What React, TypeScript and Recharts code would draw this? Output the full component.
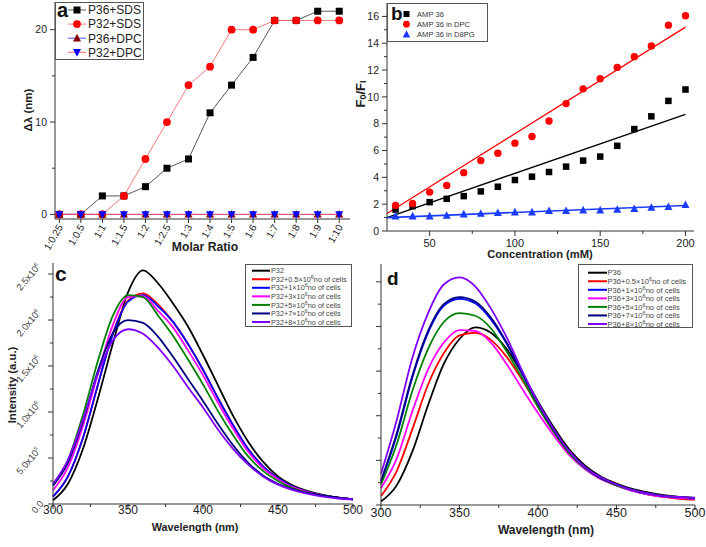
import React from 'react'
import { ComposedChart, LineChart, Line, Scatter, XAxis, YAxis } from 'recharts'

const FONT = '"Liberation Sans", Arial, Helvetica, sans-serif'
const AXIS = '#333'

// panel a: shift vs molar ratio
const RATIOS = ['1:0.25', '1:0.5', '1:1', '1:1.5', '1:2', '1:2.5', '1:3', '1:4', '1:5', '1:6', '1:7', '1:8', '1:9', '1:10']
const SHIFT_P36_SDS = [0, 0, 2, 2, 3, 5, 6, 11, 14, 17, 21, 21, 22, 22]
const SHIFT_P32_SDS = [0, 0, 0, 2, 6, 10, 14, 16, 20, 20, 21, 21, 21, 21]
const SHIFT_P36_DPC = [0, 0, 0, 0, 0, 0, 0, 0, 0, 0, 0, 0, 0, 0]
const SHIFT_P32_DPC = [0, 0, 0, 0, 0, 0, 0, 0, 0, 0, 0, 0, 0, 0]

// panel b: Stern-Volmer
const CONC = [30, 40, 50, 60, 70, 80, 90, 100, 110, 120, 130, 140, 150, 160, 170, 180, 190, 200]
const FF_AMP36 = [1.6, 1.85, 2.15, 2.4, 2.6, 2.95, 3.3, 3.8, 4.05, 4.4, 4.8, 5.25, 5.55, 6.35, 7.6, 8.55, 9.7, 10.55]
const FF_DPC = [1.9, 2.05, 2.9, 3.4, 4.35, 5.25, 5.8, 6.55, 7.05, 8.2, 9.5, 10.6, 11.35, 12.2, 13.0, 13.8, 15.35, 16.05]
const FF_D8PG = [1.1, 1.1, 1.1, 1.15, 1.25, 1.3, 1.35, 1.4, 1.4, 1.5, 1.5, 1.55, 1.55, 1.6, 1.65, 1.75, 1.8, 1.95]
const FIT_X = [25, 200]
const FIT_AMP36 = [1.0, 8.7]
const FIT_DPC = [1.3, 15.2]
const FIT_D8PG = [1.0, 1.9]

// panels c, d: emission spectra (intensity in units of 10^6)
const WAVELENGTH = [300, 310, 320, 330, 340, 350, 360, 370, 380, 390, 400, 410, 420, 430, 440, 450, 460, 470, 480, 490, 500]
const CELLS = ['0.5', '1', '3', '5', '7', '8']
const COLORS = ['#000000', '#ff0000', '#0000ff', '#ff00ff', '#008000', '#000080', '#8000ff']

const P32_CTRL = [0.04, 0.22, 0.6, 1.15, 1.75, 2.3, 2.54, 2.4, 2.18, 1.93, 1.62, 1.29, 0.96, 0.68, 0.46, 0.3, 0.2, 0.14, 0.1, 0.07, 0.05]
const P32_05 = [0.08, 0.3, 0.72, 1.3, 1.86, 2.21, 2.29, 2.17, 1.98, 1.74, 1.46, 1.15, 0.86, 0.6, 0.41, 0.28, 0.19, 0.13, 0.09, 0.07, 0.05]
const P32_1 = [0.08, 0.3, 0.72, 1.3, 1.85, 2.2, 2.27, 2.15, 1.98, 1.74, 1.46, 1.15, 0.86, 0.6, 0.41, 0.28, 0.19, 0.13, 0.09, 0.07, 0.05]
const P32_3 = [0.15, 0.4, 0.85, 1.42, 1.95, 2.25, 2.26, 2.1, 1.92, 1.67, 1.4, 1.1, 0.82, 0.57, 0.39, 0.27, 0.18, 0.13, 0.09, 0.07, 0.05]
const P32_5 = [0.2, 0.48, 0.97, 1.56, 2.05, 2.27, 2.25, 2.05, 1.83, 1.57, 1.3, 1.01, 0.75, 0.52, 0.36, 0.25, 0.17, 0.12, 0.09, 0.07, 0.05]
const P32_7 = [0.2, 0.45, 0.9, 1.45, 1.86, 2.0, 1.97, 1.82, 1.6, 1.36, 1.12, 0.87, 0.64, 0.45, 0.31, 0.22, 0.16, 0.12, 0.09, 0.07, 0.05]
const P32_8 = [0.22, 0.48, 0.92, 1.42, 1.78, 1.9, 1.85, 1.7, 1.5, 1.27, 1.05, 0.81, 0.6, 0.43, 0.3, 0.21, 0.15, 0.11, 0.08, 0.06, 0.05]

const P36_CTRL = [0.04, 0.22, 0.6, 1.12, 1.58, 1.86, 1.99, 1.93, 1.75, 1.47, 1.16, 0.87, 0.62, 0.44, 0.32, 0.24, 0.18, 0.14, 0.11, 0.09, 0.07]
const P36_05 = [0.1, 0.38, 0.85, 1.35, 1.7, 1.9, 1.93, 1.85, 1.66, 1.4, 1.1, 0.82, 0.58, 0.41, 0.3, 0.22, 0.16, 0.12, 0.09, 0.07, 0.06]
const P36_1 = [0.26, 0.78, 1.43, 1.93, 2.23, 2.31, 2.26, 2.08, 1.81, 1.47, 1.13, 0.83, 0.59, 0.41, 0.3, 0.22, 0.16, 0.12, 0.1, 0.08, 0.07]
const P36_3 = [0.19, 0.52, 1.05, 1.52, 1.82, 1.96, 1.95, 1.82, 1.58, 1.3, 1.03, 0.78, 0.56, 0.4, 0.29, 0.22, 0.16, 0.12, 0.09, 0.08, 0.07]
const P36_5 = [0.23, 0.68, 1.28, 1.75, 2.05, 2.15, 2.12, 1.98, 1.72, 1.42, 1.1, 0.82, 0.58, 0.41, 0.3, 0.22, 0.17, 0.13, 0.1, 0.09, 0.08]
const P36_7 = [0.27, 0.8, 1.45, 1.95, 2.25, 2.33, 2.28, 2.1, 1.82, 1.48, 1.14, 0.84, 0.6, 0.42, 0.3, 0.23, 0.17, 0.13, 0.1, 0.09, 0.08]
const P36_8 = [0.35, 0.95, 1.65, 2.15, 2.47, 2.55, 2.45, 2.2, 1.88, 1.5, 1.15, 0.85, 0.6, 0.42, 0.31, 0.23, 0.17, 0.13, 0.1, 0.09, 0.08]

const P32_SERIES = [P32_CTRL, P32_05, P32_1, P32_3, P32_5, P32_7, P32_8]
const P36_SERIES = [P36_CTRL, P36_05, P36_1, P36_3, P36_5, P36_7, P36_8]

const dataA = RATIOS.map((_, i) => ({
  i,
  p36sds: SHIFT_P36_SDS[i],
  p32sds: SHIFT_P32_SDS[i],
  p36dpc: SHIFT_P36_DPC[i],
  p32dpc: SHIFT_P32_DPC[i]
}))

const toPts = (xs: number[], ys: number[]) => xs.map((x, i) => ({ x, y: ys[i] }))

const spectraRows = (series: number[][]) =>
  WAVELENGTH.map((w, i) => {
    const row: any = { w }
    series.forEach((s, k) => (row['s' + k] = s[i]))
    return row
  })

// markers
const Square = ({ cx, cy, color, s = 7 }: any) =>
  cx == null ? null : <rect x={cx - s / 2} y={cy - s / 2} width={s} height={s} fill={color} />
const Circle = ({ cx, cy, color, r = 3.8 }: any) =>
  cx == null ? null : <circle cx={cx} cy={cy} r={r} fill={color} />
const TriUp = ({ cx, cy, color, s = 8 }: any) =>
  cx == null ? null : (
    <polygon points={`${cx},${cy - s * 0.55} ${cx - s / 2},${cy + s * 0.4} ${cx + s / 2},${cy + s * 0.4}`} fill={color} />
  )
const TriDown = ({ cx, cy, color, s = 8 }: any) =>
  cx == null ? null : (
    <polygon points={`${cx},${cy + s * 0.55} ${cx - s / 2},${cy - s * 0.4} ${cx + s / 2},${cy - s * 0.4}`} fill={color} />
  )

// ticks
function XTick({ x, y, payload, isMajor, size, dy, fmt }: any) {
  const v = payload.value
  const major = isMajor(v)
  return (
    <g>
      <line x1={x} x2={x} y1={y} y2={y + (major ? 5 : 3)} stroke={AXIS} />
      {major && (
        <text x={x} y={y + dy} textAnchor="middle" fontSize={size} fontFamily={FONT} fill="#222">
          {fmt ? fmt(v) : v}
        </text>
      )}
    </g>
  )
}

function YTick({ x, y, payload, isMajor, size, showLabel = true }: any) {
  const v = payload.value
  const major = isMajor(v)
  return (
    <g>
      <line x1={x} x2={x - (major ? 5 : 3)} y1={y} y2={y} stroke={AXIS} />
      {major && showLabel && (
        <text x={x - 8} y={y} dy="0.35em" textAnchor="end" fontSize={size} fontFamily={FONT} fill="#222">
          {v}
        </text>
      )}
    </g>
  )
}

function RatioTick({ x, y, payload }: any) {
  const ax = x + 4
  const ay = y + 8
  return (
    <g>
      <line x1={x} x2={x} y1={y} y2={y + 4} stroke={AXIS} />
      <text x={ax} y={ay} textAnchor="end" fontSize={10} fontFamily={FONT} fill="#222"
        transform={`rotate(-60 ${ax} ${ay})`}>
        {RATIOS[payload.value]}
      </text>
    </g>
  )
}

const halfMajor = (v: number) => Math.abs(v * 2 - Math.round(v * 2)) < 1e-9

function SciTick({ x, y, payload }: any) {
  const v = payload.value
  const major = halfMajor(v)
  const cx = v === 0 ? x - 13 : x - 22
  const cy = y + 5
  let label: React.ReactNode = '0.0'
  if (v === 0.5) label = <>5.0x10<tspan dy={-4} fontSize={5.5}>5</tspan></>
  else if (v > 0) label = <>{v.toFixed(1)}x10<tspan dy={-4} fontSize={5.5}>6</tspan></>
  return (
    <g>
      <line x1={x} x2={x - (major ? 5 : 3)} y1={y} y2={y} stroke={AXIS} />
      {major && (
        <text x={cx} y={cy} textAnchor="middle" fontSize={9.5} fontFamily={FONT} fill="#444"
          transform={`rotate(-50 ${cx} ${cy})`}>
          {label}
        </text>
      )}
    </g>
  )
}

// top and right border of each frame
const frameAxes = [
  <XAxis key="ft" xAxisId="top" orientation="top" type="number" domain={[0, 1]} tick={false} tickLine={false} height={0} stroke={AXIS} />,
  <YAxis key="fr" yAxisId="right" orientation="right" type="number" domain={[0, 1]} tick={false} tickLine={false} width={0} stroke={AXIS} />
]

function PanelA() {
  return (
    <LineChart width={360} height={260} data={dataA} margin={{ top: 2, right: 10, left: 0, bottom: 0 }}>
      <XAxis dataKey="i" type="number" domain={[-0.2, 13.5]} ticks={RATIOS.map((_, i) => i)} interval={0}
        height={41} tickSize={0} tickMargin={0} tickLine={false} stroke={AXIS} tick={<RatioTick />} />
      <YAxis type="number" domain={[-0.5, 23]} ticks={[0, 5, 10, 15, 20]} interval={0} width={55}
        tickSize={0} tickMargin={0} tickLine={false} stroke={AXIS}
        tick={<YTick isMajor={(v: number) => v % 10 === 0} size={10.5} />} />
      {frameAxes}
      <Line dataKey="p36sds" stroke="#444" strokeWidth={0.9} dot={<Square color="#000" s={7} />} isAnimationActive={false} />
      <Line dataKey="p32sds" stroke="#f26b6b" strokeWidth={0.9} dot={<Circle color="#ff0000" r={3.9} />} isAnimationActive={false} />
      <Line dataKey="p36dpc" stroke="#3344ff" strokeWidth={0.9} dot={<TriUp color="#8b0000" s={8} />} isAnimationActive={false} />
      <Line dataKey="p32dpc" stroke="#ff5555" strokeWidth={0.9} dot={<TriDown color="#0000ff" s={8} />} isAnimationActive={false} />
    </LineChart>
  )
}

function PanelB() {
  return (
    <ComposedChart width={361} height={260} margin={{ top: 3, right: 12, left: 0, bottom: 0 }}>
      <XAxis dataKey="x" type="number" domain={[25, 205]} ticks={[50, 75, 100, 125, 150, 175, 200]} interval={0}
        height={29} tickSize={0} tickMargin={0} tickLine={false} stroke={AXIS}
        tick={<XTick isMajor={(v: number) => v % 50 === 0} size={11} dy={15.5} />} />
      <YAxis dataKey="y" type="number" domain={[0, 17]} ticks={[0, 1, 2, 3, 4, 5, 6, 7, 8, 9, 10, 11, 12, 13, 14, 15, 16]}
        interval={0} width={42} tickSize={0} tickMargin={0} tickLine={false} stroke={AXIS}
        tick={<YTick isMajor={(v: number) => v % 2 === 0} size={10.5} />} />
      {frameAxes}
      <Line data={toPts(FIT_X, FIT_AMP36)} dataKey="y" stroke="#000" strokeWidth={1.3} dot={false} isAnimationActive={false} />
      <Line data={toPts(FIT_X, FIT_DPC)} dataKey="y" stroke="#ff0000" strokeWidth={1.3} dot={false} isAnimationActive={false} />
      <Line data={toPts(FIT_X, FIT_D8PG)} dataKey="y" stroke="#1a3cff" strokeWidth={1.6} dot={false} isAnimationActive={false} />
      <Scatter data={toPts(CONC, FF_AMP36)} shape={<Square color="#000" s={6.5} />} isAnimationActive={false} />
      <Scatter data={toPts(CONC, FF_DPC)} shape={<Circle color="#ff0000" r={3.7} />} isAnimationActive={false} />
      <Scatter data={toPts(CONC, FF_D8PG)} shape={<TriUp color="#1a3cff" s={8} />} isAnimationActive={false} />
    </ComposedChart>
  )
}

const WL_TICKS = [300, 325, 350, 375, 400, 425, 450, 475, 500]
const INT_TICKS = [0, 0.25, 0.5, 0.75, 1, 1.25, 1.5, 1.75, 2, 2.25, 2.5]

function SpectraPanel({ series, width, margin, yWidth, xHeight, yMax, labels, xFont, xDy }: any) {
  return (
    <LineChart width={width} height={292} data={spectraRows(series)} margin={margin}>
      <XAxis dataKey="w" type="number" domain={[300, 500]} ticks={WL_TICKS} interval={0} height={xHeight}
        tickSize={0} tickMargin={0} tickLine={false} stroke={AXIS}
        tick={<XTick isMajor={(v: number) => v % 50 === 0} size={xFont} dy={xDy} />} />
      <YAxis type="number" domain={[0, yMax]} ticks={INT_TICKS} interval={0} width={yWidth}
        tickSize={0} tickMargin={0} tickLine={false} stroke={AXIS}
        tick={labels ? <SciTick /> : <YTick isMajor={halfMajor} showLabel={false} />} />
      {frameAxes}
      {series.map((_: number[], k: number) => (
        <Line key={k} dataKey={'s' + k} type="monotone" stroke={COLORS[k]} strokeWidth={1.8} dot={false} isAnimationActive={false} />
      ))}
    </LineChart>
  )
}

const cellLabel = (p: string, n?: string) =>
  n == null ? p : (
    <>
      {p}+{n}×10<tspan dy={-3} fontSize="5.5">6</tspan><tspan dy={3}>no of cells</tspan>
    </>
  )

function Overlay() {
  const legA = [
    { name: 'P36+SDS', line: '#444', m: <Square cx={77} cy={0} color="#000" s={7} /> },
    { name: 'P32+SDS', line: '#f26b6b', m: <Circle cx={77} cy={0} color="#ff0000" r={3.9} /> },
    { name: 'P36+DPC', line: '#3344ff', m: <TriUp cx={77} cy={0} color="#8b0000" s={8} /> },
    { name: 'P32+DPC', line: '#ff5555', m: <TriDown cx={77} cy={0} color="#0000ff" s={8} /> }
  ]
  const legB = [
    { name: 'AMP 36', m: <Square cx={406.5} cy={0} color="#000" s={6} /> },
    { name: 'AMP 36 in DPC', m: <Circle cx={406.5} cy={0} color="#ff0000" r={3.4} /> },
    { name: 'AMP 36 in D8PG', m: <TriUp cx={406.5} cy={0} color="#1a3cff" s={7.5} /> }
  ]
  const namesC = [cellLabel('P32'), ...CELLS.map(n => cellLabel('P32', n))]
  const namesD = [cellLabel('P36'), ...CELLS.map(n => cellLabel('P36', n))]
  const title = { fontFamily: FONT, fontWeight: 700, fill: '#222' } as const
  return (
    <svg width={706} height={547} style={{ position: 'absolute', left: 0, top: 0, pointerEvents: 'none' }}>
      {/* legend a */}
      <rect x={55.5} y={2.5} width={88} height={57} fill="#fff" stroke="#555" />
      {legA.map((r, i) => {
        const y = 10 + i * 14.1
        return (
          <g key={r.name}>
            <g transform={`translate(0 ${y})`}>
              <line x1={68} x2={86} y1={0} y2={0} stroke={r.line} strokeWidth={0.9} />
              {r.m}
            </g>
            <text x={88} y={y + 4.3} fontSize={12} fontFamily={FONT} fill="#222">{r.name}</text>
          </g>
        )
      })}
      <text x={57} y={17} fontSize={20} {...title} fill="#111">a</text>

      {/* legend b */}
      <rect x={387.5} y={3.5} width={100} height={38} fill="#fff" stroke="#555" />
      {legB.map((r, i) => {
        const y = 14 + i * 10.2
        return (
          <g key={r.name}>
            <g transform={`translate(0 ${y})`}>{r.m}</g>
            <text x={417} y={y + 2.8} fontSize={7.6} fontFamily={FONT} fill="#333">{r.name}</text>
          </g>
        )
      })}
      <text x={391} y={20} fontSize={19} {...title} fill="#111">b</text>

      {/* legend c */}
      <rect x={245.5} y={264.5} width={106} height={62} fill="#fff" stroke="#555" />
      {namesC.map((n, i) => {
        const y = 270.7 + i * 8.55
        return (
          <g key={i}>
            <line x1={252} x2={270} y1={y} y2={y} stroke={COLORS[i]} strokeWidth={2} />
            <text x={271} y={y + 2.6} fontSize={7.3} fontFamily={FONT} fill="#444">{n}</text>
          </g>
        )
      })}
      <text x={55} y={281} fontSize={21} {...title} fill="#111">c</text>

      {/* legend d */}
      <rect x={578.5} y={264.5} width={114} height={63} fill="#fff" stroke="#555" />
      {namesD.map((n, i) => {
        const y = 272.7 + i * 8.55
        return (
          <g key={i}>
            <line x1={588} x2={607} y1={y} y2={y} stroke={COLORS[i]} strokeWidth={2} />
            <text x={607.5} y={y + 2.7} fontSize={7.6} fontFamily={FONT} fill="#444">{n}</text>
          </g>
        )
      })}
      <text x={387} y={285} fontSize={19} {...title} fill="#111">d</text>

      {/* axis titles */}
      <text x={28} y={110} fontSize={11.5} textAnchor="middle" dominantBaseline="central" transform="rotate(-90 28 110)" {...title}>
        Δλ (nm)
      </text>
      <text x={205} y={251} fontSize={12.2} textAnchor="middle" {...title}>Molar Ratio</text>

      <text x={360} y={94} fontSize={13} textAnchor="middle" dominantBaseline="central" transform="rotate(-90 360 94)" {...title}>
        F<tspan dy={3} fontSize={9}>0</tspan><tspan dy={-3}>/F</tspan><tspan dy={3} fontSize={9}>I</tspan>
      </text>
      <text x={540} y={258} fontSize={11.2} textAnchor="middle" {...title}>Concentration (mM)</text>

      <text x={12} y={385} fontSize={11.3} textAnchor="middle" dominantBaseline="central" transform="rotate(-90 12 385)" {...title}>
        Intensity (a.u.)
      </text>
      <text x={195} y={531} fontSize={10.8} textAnchor="middle" {...title}>Wavelength (nm)</text>
      <text x={546} y={534} fontSize={12} textAnchor="middle" {...title}>Wavelength (nm)</text>
    </svg>
  )
}

export default function App() {
  return (
    <div style={{ position: 'absolute', left: 0, top: 0, width: 706, height: 547, background: '#fff', fontFamily: FONT }}>
      <div style={{ position: 'absolute', left: 0, top: 0 }}><PanelA /></div>
      <div style={{ position: 'absolute', left: 345, top: 0 }}><PanelB /></div>
      <div style={{ position: 'absolute', left: 0, top: 255 }}>
        <SpectraPanel series={P32_SERIES} width={367} margin={{ top: 8, right: 14, left: 0, bottom: 0 }}
          yWidth={53} xHeight={43} yMax={2.62} labels xFont={12} xDy={10} />
      </div>
      <div style={{ position: 'absolute', left: 360, top: 255 }}>
        <SpectraPanel series={P36_SERIES} width={346} margin={{ top: 9, right: 11, left: 0, bottom: 0 }}
          yWidth={21} xHeight={42} yMax={2.7} labels={false} xFont={12.5} xDy={11.5} />
      </div>
      <Overlay />
    </div>
  )
}
